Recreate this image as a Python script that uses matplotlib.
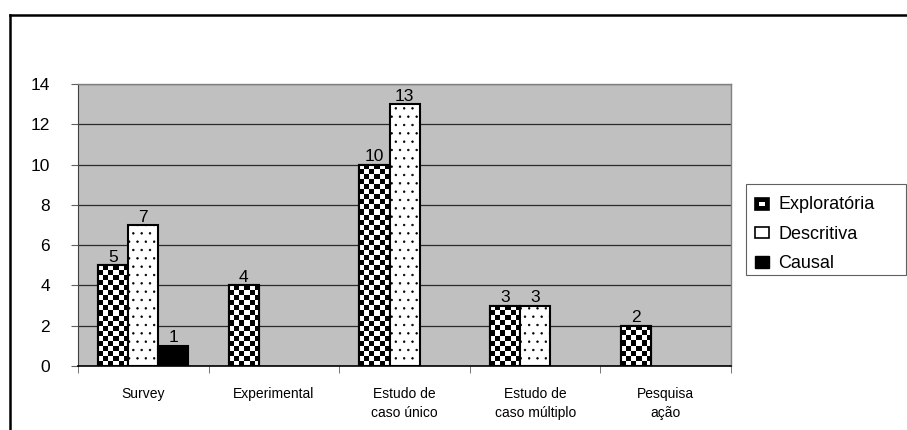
import numpy as np
import matplotlib
matplotlib.use('Agg')
from matplotlib import pyplot as plt
from matplotlib.patches import Rectangle, Patch
from matplotlib.legend_handler import HandlerBase
from matplotlib.lines import Line2D

plt.rcParams['font.family'] = ['Liberation Sans', 'DejaVu Sans']

# data
categories = ['Survey', 'Experimental', 'Estudo de\ncaso único', 'Estudo de\ncaso múltiplo', 'Pesquisa\nação']
exploratoria = [5, 4, 10, 3, 2]
descritiva = [7, 0, 13, 3, 0]
causal = [1, 0, 0, 0, 0]
series_names = ['Exploratória', 'Descritiva', 'Causal']

fig = plt.figure(figsize=(9.07, 4.30), dpi=100)
ax = fig.add_axes([0.086, 0.1488, 0.72, 0.656])
ax.set_facecolor('#c0c0c0')

x = np.arange(len(categories))
w = 0.23

# checker fill for Exploratória bars
def checker_fill(bar):
    bx, by = bar.get_x(), bar.get_y()
    bw, bh = bar.get_width(), bar.get_height()
    ncol = 6
    nrow = max(1, int(round(bh / 0.25)))
    arr = (np.indices((nrow, ncol)).sum(axis=0) % 2).astype(float)
    im = ax.imshow(arr, cmap='gray', interpolation='nearest', aspect='auto',
                   extent=(bx, bx + bw, by, by + nrow * 0.25), origin='lower',
                   vmin=0, vmax=1, zorder=2.5)
    im.set_clip_path(bar)

def draw_labels(bars, vals):
    for b, v in zip(bars, vals):
        if v > 0:
            ax.text(b.get_x() + b.get_width() / 2, v + 0.02, str(v),
                    ha='center', va='bottom', fontsize=12.5, zorder=4)

ex_vals = [v if v > 0 else np.nan for v in exploratoria]
de_vals = [v if v > 0 else np.nan for v in descritiva]
ca_vals = [v if v > 0 else np.nan for v in causal]

b1 = ax.bar(x - w, ex_vals, w, facecolor='white', edgecolor='black', linewidth=1.5, zorder=2)
for b, v in zip(b1, exploratoria):
    if v > 0:
        checker_fill(b)
ax.bar(x - w, ex_vals, w, facecolor='none', edgecolor='black', linewidth=1.5, zorder=3)

plt.rcParams['hatch.linewidth'] = 0.5
b2 = ax.bar(x, de_vals, w, facecolor='white', edgecolor='black', linewidth=1.5,
            hatch='..', zorder=3)
b3 = ax.bar(x + w, ca_vals, w, facecolor='black', edgecolor='black', linewidth=1.5, zorder=3)

draw_labels(b1, exploratoria)
draw_labels(b2, descritiva)
draw_labels(b3, causal)

ax.set_xlim(-0.5, len(categories) - 0.5)
ax.set_ylim(0, 14)
ax.set_yticks(range(0, 15, 2))
ax.yaxis.grid(True, color='#2a2a2a', linewidth=0.9)
ax.set_axisbelow(True)
ax.tick_params(axis='y', labelsize=12.5, length=5, color='#606060', pad=15)

ax.set_xticks(x)
ax.set_xticklabels(categories, fontsize=10, linespacing=1.45)
ax.set_xticks(np.arange(-0.5, len(categories), 1), minor=True)
ax.tick_params(axis='x', which='major', length=0, pad=15)
ax.tick_params(axis='x', which='minor', length=5, color='#606060')

for s in ['top', 'right']:
    ax.spines[s].set_color('#808080')
    ax.spines[s].set_linewidth(1)
ax.spines['left'].set_color('#404040')
ax.spines['bottom'].set_color('black')
ax.spines['bottom'].set_linewidth(1.2)

# legend with a checker icon
class CheckerHandler(HandlerBase):
    def create_artists(self, legend, orig, xd, yd, width, height, fontsize, trans):
        arts = [Rectangle((xd, yd), width, height, facecolor='black',
                          edgecolor='black', lw=1.2, transform=trans)]
        arts.append(Rectangle((xd + width * 0.3, yd + height * 0.3), width * 0.4, height * 0.35,
                              facecolor='white', edgecolor='none', transform=trans))
        return arts

h1 = Patch(facecolor='black', edgecolor='black')
h2 = Patch(facecolor='white', edgecolor='black', linewidth=1.2)
h3 = Patch(facecolor='black', edgecolor='black')
leg = fig.legend([h1, h2, h3], series_names, loc='upper left',
                 bbox_to_anchor=(755 / 907, 1 - 196 / 430), fontsize=13, frameon=False,
                 handlelength=0.8, handleheight=0.6, handletextpad=0.5,
                 labelspacing=0.7, borderpad=0, borderaxespad=0,
                 handler_map={h1: CheckerHandler()})

# legend box
fig.add_artist(Rectangle((746 / 907, 1 - 275 / 430), 160 / 907, 91 / 430,
                         transform=fig.transFigure, facecolor='none',
                         edgecolor='#606060', linewidth=0.8))

# outer frame
fig.add_artist(Line2D([10 / 907, 10 / 907], [1 - 15 / 430, 0], transform=fig.transFigure,
                      color='black', linewidth=1.8))
fig.add_artist(Line2D([10 / 907, 1], [1 - 15 / 430, 1 - 15 / 430], transform=fig.transFigure,
                      color='black', linewidth=1.8))

fig.savefig('out.png', dpi=100)
